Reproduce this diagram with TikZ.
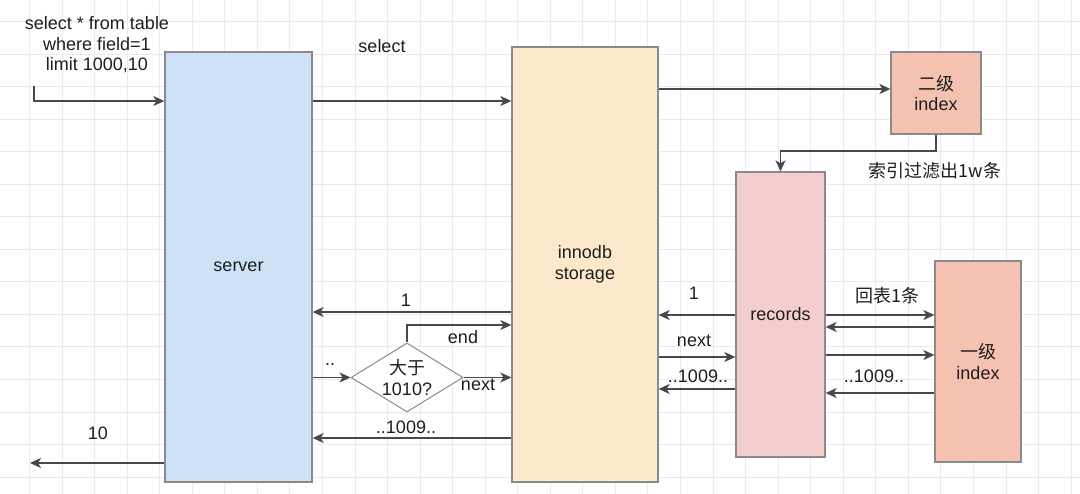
\documentclass[tikz,border=0pt]{standalone}
\usepackage{fontspec}
\setmainfont{Liberation Sans}
\newfontfamily\cjk{Noto Sans CJK SC}
\usetikzlibrary{shapes.geometric}
\usetikzlibrary{arrows.meta, positioning}
\usepackage{xcolor}
\definecolor{servercolor}{RGB}{206, 225, 246}
\definecolor{innodbcolor}{RGB}{253, 232, 204}
\definecolor{recordcolor}{RGB}{244, 205, 207}
\definecolor{indexcolor}{RGB}{245, 193, 177}
\definecolor{boxline}{RGB}{138, 138, 138}
\definecolor{arrowcolor}{RGB}{72, 72, 72}
\definecolor{gridcolor}{RGB}{234, 234, 234}
\definecolor{textcolor}{RGB}{30, 30, 30}
\tikzset{
    block/.style={draw=boxline, line width=1.3pt, inner sep=0pt, align=center, text=textcolor},
    flow/.style={draw=arrowcolor, line width=1.4pt, -{Stealth[length=11pt, width=10pt, inset=3pt]}},
    lbl/.style={text=textcolor, inner sep=0pt, align=center},
}

\begin{document}
\begin{tikzpicture}[x=1pt, y=-1pt, font=\fontsize{18}{20.5}\selectfont]
    \useasboundingbox (0,0) rectangle (1080,494);
    % grid
    \foreach \gx in {0,...,32}
        \draw[gridcolor, line width=1pt] ({29.5+32.55*\gx},0) -- ({29.5+32.55*\gx},494);
    \foreach \gy in {0,...,14}
        \draw[gridcolor, line width=1pt] (0,{21.5+32.55*\gy}) -- (1080,{21.5+32.55*\gy});

    \node[block, fill=servercolor, minimum width=147, minimum height=430] (server) at (238.5,267) {server};
    \node[block, fill=innodbcolor, minimum width=146, minimum height=435] (innodb) at (585,264.5) {innodb\\storage};
    \node[block, fill=indexcolor, minimum width=90, minimum height=82] (index2) at (936,93) {{\cjk 二级}\\index};
    \node[block, fill=recordcolor, minimum width=89, minimum height=285] (records) at (780.5,314.5) {records};
    \node[block, fill=indexcolor, minimum width=86, minimum height=201] (index1) at (978,361.5) {{\cjk 一级}\\index};
    \node[block, diamond, aspect=1.6, fill=white, line width=1pt, minimum width=112, minimum height=69] (check) at (407,377.5) {{\cjk 大于}\\1010?};

    % query in, result out
    \node[lbl] (query) at (97,45) {select * from table\\where field=1\\limit 1000,10};
    \coordinate (start) at (34,86);
    \draw[flow] (start) |- (server.west |- 0,101);
    \coordinate (result) at (30,463);
    \draw[flow] (server.west |- result) -- (result);
    \node[lbl] (tenlbl) at (98,433) {10};

    % server <-> innodb
    \draw[flow] (server.east |- 0,101) -- (innodb.west |- 0,101);
    \node[lbl] (selectlbl) at (382,46) {select};
    \draw[flow] (innodb.west |- 0,312) -- (server.east |- 0,312);
    \node[lbl] (onelbl) at (406,300) {1};
    \draw[flow] (server.east |- check) -- (check.west);
    \node[lbl] (dotlbl) at (330,365) {..};
    \draw[flow] (check.north) |- (innodb.west |- 0,325);
    \node[lbl] (endlbl) at (463,337) {end};
    \draw[flow] (check.east) -- (innodb.west |- check);
    \node[lbl] (nextlbl) at (478,385) {next};
    \draw[flow] (innodb.west |- 0,438) -- (server.east |- 0,438);
    \node[lbl] (restlbl) at (406,427) {..1009..};

    % innodb -> index -> records
    \draw[flow] (innodb.east |- 0,89) -- (index2.west |- 0,89);
    \draw[flow] (index2.south) -- (index2.south |- 0,151) -| (records.north);
    \node[lbl] (filterlbl) at (935,171) {\cjk 索引过滤出1w条};

    % innodb <-> records
    \draw[flow] (records.west |- 0,315) -- (innodb.east |- 0,315);
    \node[lbl] (rowonelbl) at (694,293) {1};
    \draw[flow] (innodb.east |- 0,357) -- (records.west |- 0,357);
    \node[lbl] (rownextlbl) at (694,341) {next};
    \draw[flow] (records.west |- 0,389) -- (innodb.east |- 0,389);
    \node[lbl] (rowrestlbl) at (698,376) {..1009..};

    % records <-> primary index
    \draw[flow] (records.east |- 0,315) -- (index1.west |- 0,315);
    \node[lbl] (backlbl) at (887,296) {\cjk 回表1条};
    \draw[flow] (index1.west |- 0,327) -- (records.east |- 0,327);
    \draw[flow] (records.east |- 0,355) -- (index1.west |- 0,355);
    \draw[flow] (index1.west |- 0,393) -- (records.east |- 0,393);
    \node[lbl] (backrestlbl) at (874,376) {..1009..};
\end{tikzpicture}
\end{document}
